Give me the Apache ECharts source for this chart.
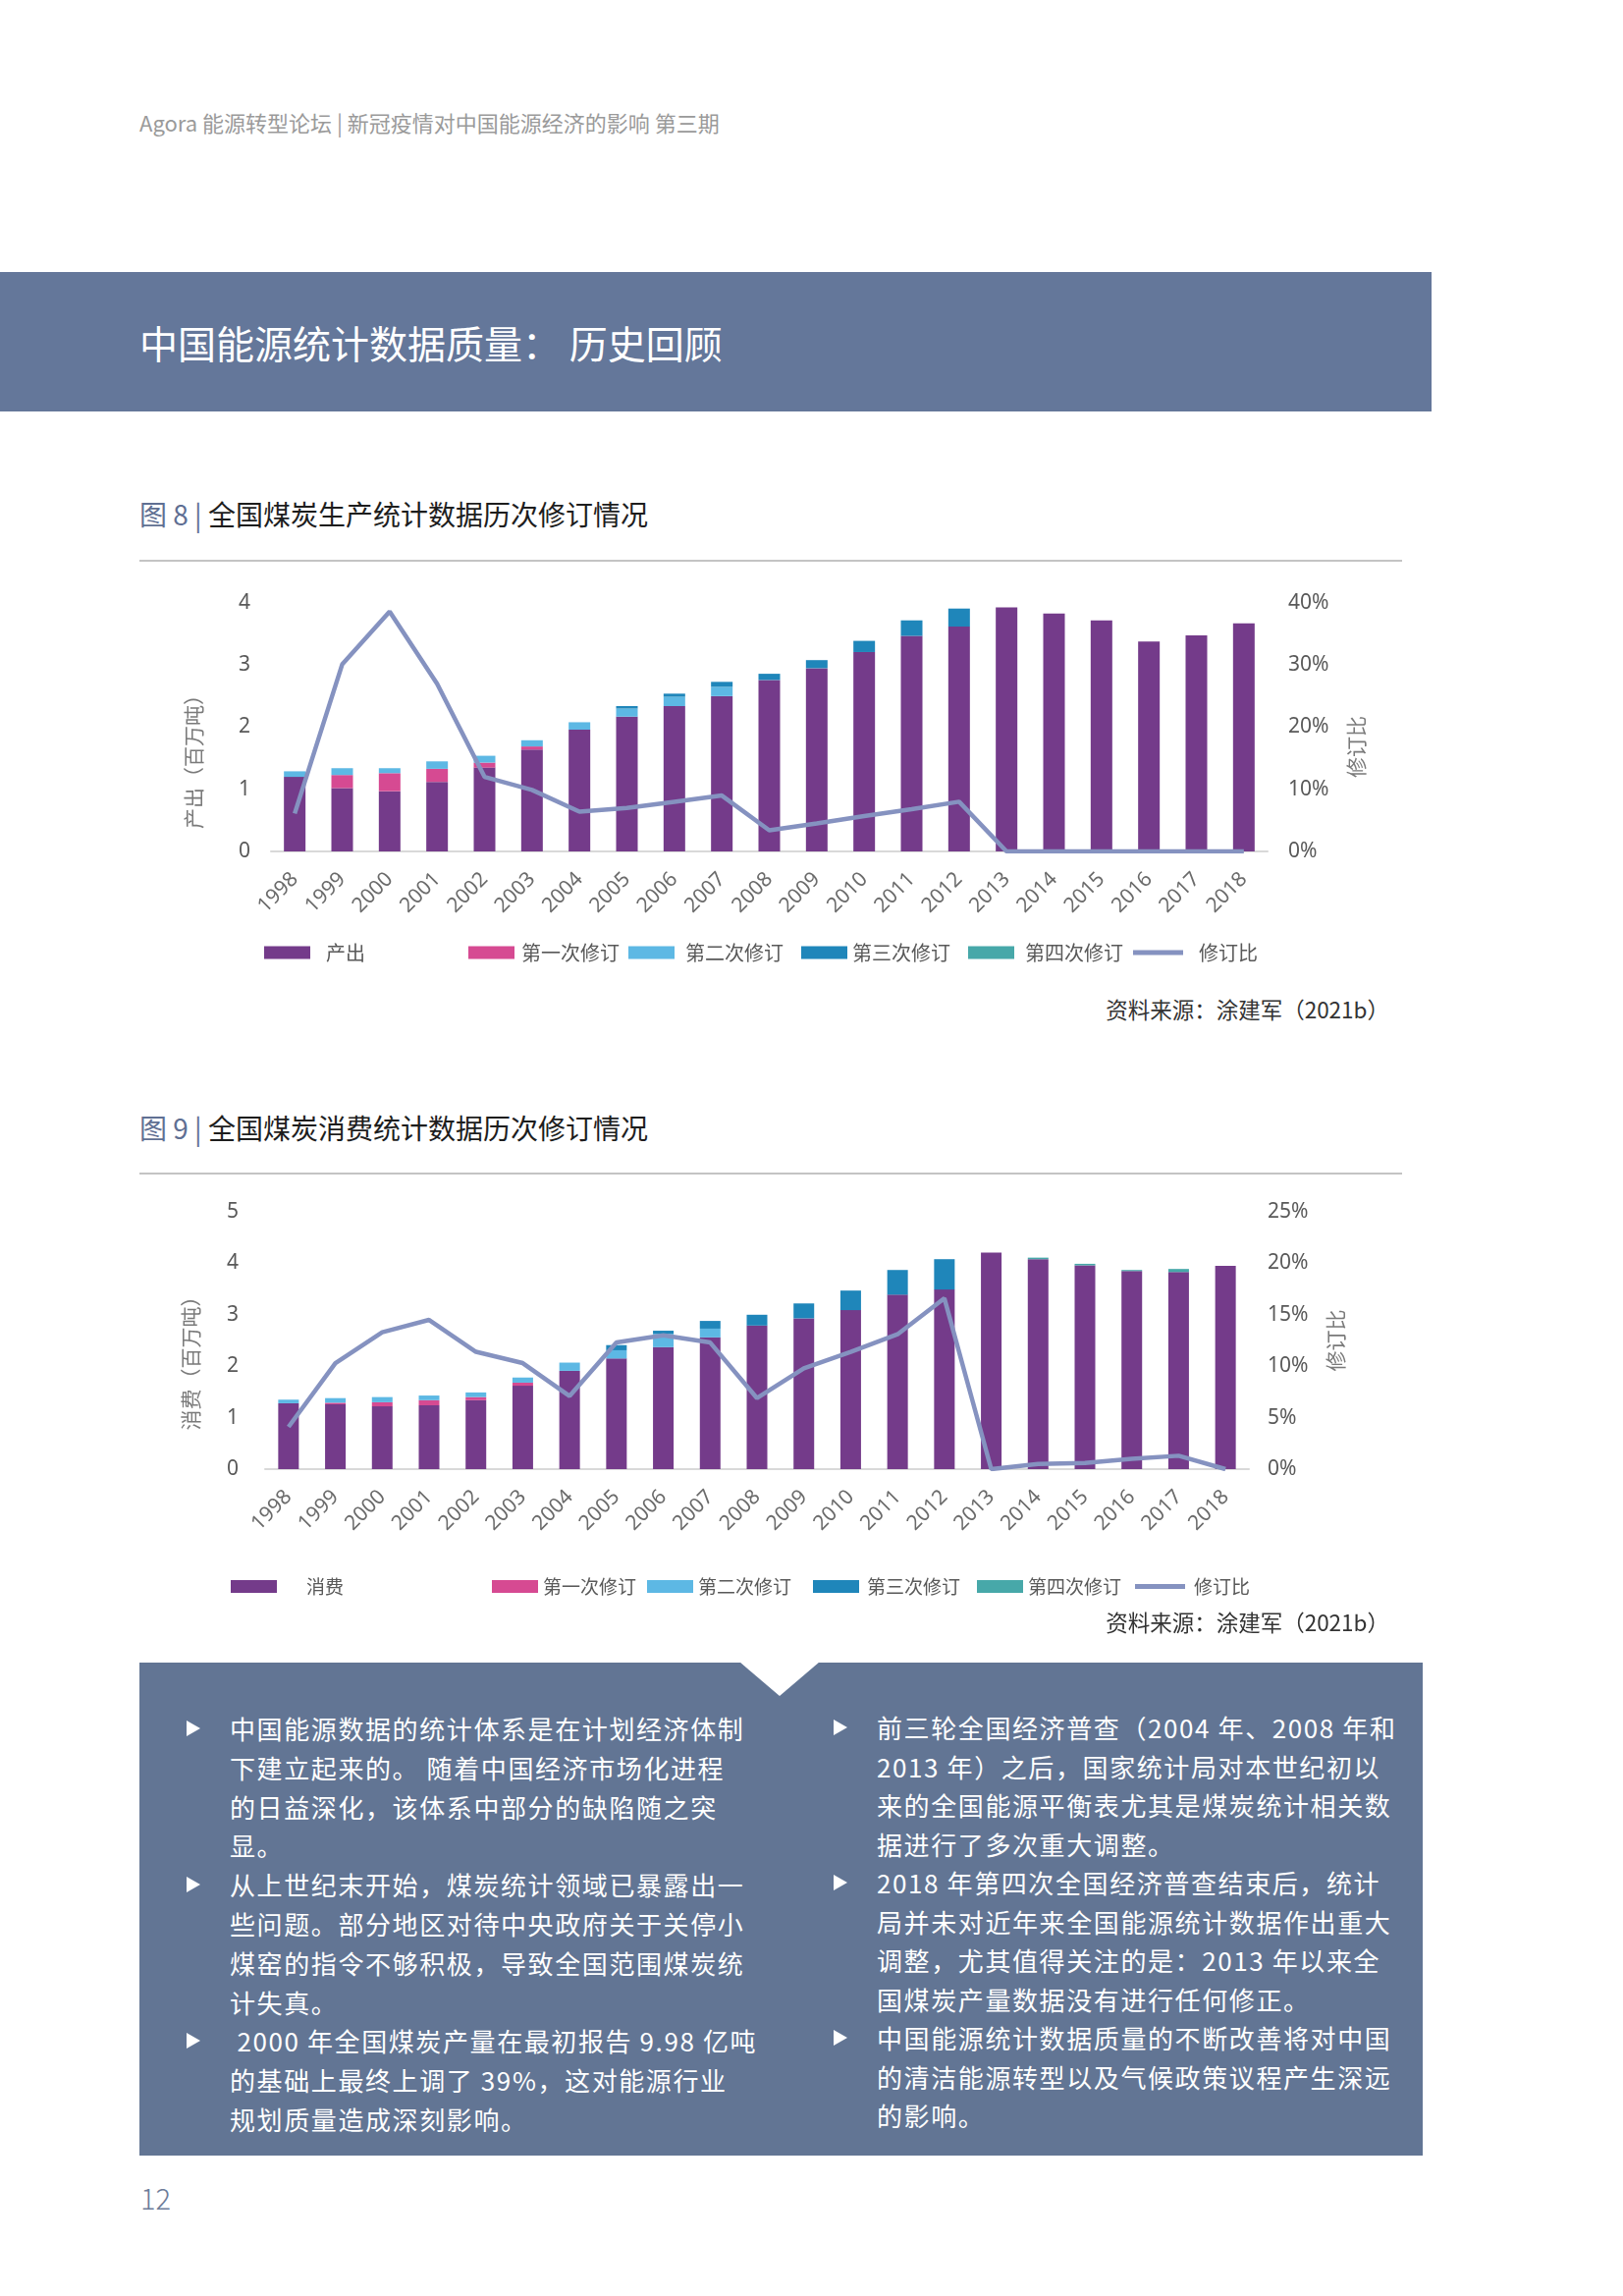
<!DOCTYPE html>
<html>
<head>
<meta charset="utf-8">
<script src="https://cdn.jsdelivr.net/npm/echarts@6/dist/echarts.min.js"></script>
<style>
  html, body { margin: 0; padding: 0; background: #fff; }
  #page { position: relative; width: 1653px; height: 2338px; overflow: hidden; background: #fff;
          font-family: 'Noto Sans CJK SC', 'Noto Sans', sans-serif; }
  .abs { position: absolute; white-space: nowrap; }
  .line { position: absolute; white-space: pre; color: #fff; font-size: 26px; letter-spacing: 1.6px; height: 40px; line-height: 40px; }
  .tri { position: absolute; width: 0; height: 0; border-top: 8px solid transparent; border-bottom: 8px solid transparent; border-left: 14px solid #fff; }
</style>
</head>
<body>
<div id="page">
  <div class="abs" style="left:142px;top:109px;font-size:22px;line-height:30px;color:#9a9a9a;">Agora 能源转型论坛 | 新冠疫情对中国能源经济的影响 第三期</div>
  <div class="abs" style="left:0;top:277px;width:1458px;height:142px;background:#64779a;"></div>
  <div class="abs" style="left:142px;top:324px;font-size:39px;line-height:48px;color:#fff;">中国能源统计数据质量： 历史回顾</div>

  <div class="abs" style="left:142px;top:504px;font-size:28px;line-height:38px;color:#1d1d1d;"><span style="color:#5f6f93">图 8 | </span>全国煤炭生产统计数据历次修订情况</div>
  <div class="abs" style="left:142px;top:570px;width:1286px;height:2px;background:#c4c4c4;"></div>
  <div id="c1" class="abs" style="left:0;top:580px;width:1653px;height:430px;"></div>
  <div class="abs" style="right:238px;top:1012px;font-size:22.5px;line-height:30px;color:#333;">资料来源：涂建军（2021b）</div>

  <div class="abs" style="left:142px;top:1129px;font-size:28px;line-height:38px;color:#1d1d1d;"><span style="color:#5f6f93">图 9 | </span>全国煤炭消费统计数据历次修订情况</div>
  <div class="abs" style="left:142px;top:1194px;width:1286px;height:2px;background:#c4c4c4;"></div>
  <div id="c2" class="abs" style="left:0;top:1200px;width:1653px;height:440px;"></div>
  <div class="abs" style="right:238px;top:1636px;font-size:22.5px;line-height:30px;color:#333;">资料来源：涂建军（2021b）</div>

  <div class="abs" style="left:142px;top:1693px;width:1307px;height:502px;background:#627594;"></div>
  <div class="abs" style="left:753px;top:1692px;width:0;height:0;border-left:41px solid transparent;border-right:41px solid transparent;border-top:35px solid #fff;"></div>
  <div id="colL"></div>
  <div id="colR"></div>

  <div class="abs" style="left:143px;top:2219px;font-size:29px;line-height:36px;color:#6d7c99;font-weight:300;">12</div>
</div>

<script>
// ---------- data ----------
const years = ['1998','1999','2000','2001','2002','2003','2004','2005','2006','2007','2008','2009','2010','2011','2012','2013','2014','2015','2016','2017','2018'];

// Figure 8: production (axis labelled 百万吨 as in the source)
const prodBase  = [1.20,1.02,0.97,1.12,1.35,1.64,1.96,2.17,2.34,2.50,2.76,2.95,3.21,3.47,3.62,3.93,3.83,3.72,3.38,3.48,3.67];
const prodRev1  = [0,0.21,0.29,0.21,0.08,0.05,0,0,0,0,0,0,0,0,0,0,0,0,0,0,0];
const prodRev2  = [0.09,0.11,0.08,0.12,0.11,0.10,0.12,0.13,0.15,0.15,0,0,0,0,0,0,0,0,0,0,0];
const prodRev3  = [0,0,0,0,0,0,0,0.04,0.05,0.08,0.10,0.13,0.18,0.25,0.29,0,0,0,0,0,0];
const prodRev4  = [0,0,0,0,0,0,0,0,0,0,0,0,0,0,0,0,0,0,0,0,0];
const prodRatio = [6.1,30.1,38.6,27.0,12.0,9.9,6.4,7.0,8.0,9.0,3.4,4.5,5.7,6.8,8.0,0,0,0,0,0,0];

// Figure 9: consumption
const consBase  = [1.28,1.26,1.22,1.24,1.34,1.62,1.91,2.15,2.37,2.56,2.79,2.93,3.09,3.39,3.49,4.21,4.08,3.96,3.85,3.83,3.95];
const consRev1  = [0,0.03,0.08,0.10,0.06,0.06,0,0,0,0,0,0,0,0,0,0,0,0,0,0,0];
const consRev2  = [0.07,0.09,0.10,0.09,0.09,0.10,0.16,0.16,0.26,0.17,0,0,0,0,0,0,0,0,0,0,0];
const consRev3  = [0,0,0,0,0,0,0,0.10,0.06,0.15,0.21,0.29,0.38,0.48,0.59,0,0,0,0,0,0];
const consRev4  = [0,0,0,0,0,0,0,0,0,0,0,0,0,0,0,0,0.03,0.03,0.02,0.06,0];
const consRatio = [4.1,10.3,13.3,14.5,11.4,10.3,7.1,12.3,13.0,12.3,6.9,9.8,11.4,13.1,16.6,0,0.5,0.6,1.0,1.3,0];

const leftTicks1 = [0,1,2,3,4];
const rightTicks1 = ['0%','10%','20%','30%','40%'];
const leftTicks2 = [0,1,2,3,4,5];
const rightTicks2 = ['0%','5%','10%','15%','20%','25%'];

const revNames = ['第一次修订','第二次修订','第三次修订','第四次修订'];
const ratioName = '修订比';

// ---------- text ----------
const leftLines = [
  '中国能源数据的统计体系是在计划经济体制',
  '下建立起来的。 随着中国经济市场化进程',
  '的日益深化，该体系中部分的缺陷随之突',
  '显。',
  '从上世纪末开始，煤炭统计领域已暴露出一',
  '些问题。部分地区对待中央政府关于关停小',
  '煤窑的指令不够积极，导致全国范围煤炭统',
  '计失真。',
  ' 2000 年全国煤炭产量在最初报告 9.98 亿吨',
  '的基础上最终上调了 39%，这对能源行业',
  '规划质量造成深刻影响。'
];
const rightLines = [
  '前三轮全国经济普查（2004 年、2008 年和',
  '2013 年）之后，国家统计局对本世纪初以',
  '来的全国能源平衡表尤其是煤炭统计相关数',
  '据进行了多次重大调整。',
  '2018 年第四次全国经济普查结束后，统计',
  '局并未对近年来全国能源统计数据作出重大',
  '调整，尤其值得关注的是：2013 年以来全',
  '国煤炭产量数据没有进行任何修正。',
  '中国能源统计数据质量的不断改善将对中国',
  '的清洁能源转型以及气候政策议程产生深远',
  '的影响。'
];
function buildCol(id, lines, textLeft, bulletLeft, firstCenter, lh) {
  const el = document.getElementById(id);
  lines.forEach((t, i) => {
    const d = document.createElement('div');
    d.className = 'line';
    d.style.left = textLeft + 'px';
    d.style.top = (firstCenter + i * lh - 20) + 'px';
    d.textContent = t;
    el.appendChild(d);
    if (i === 0 || i === 4 || i === 8) {
      const b = document.createElement('div');
      b.className = 'tri';
      b.style.left = bulletLeft + 'px';
      b.style.top = (firstCenter + i * lh - 8) + 'px';
      el.appendChild(b);
    }
  });
}
buildCol('colL', leftLines, 234, 190, 1760, 39.8);
buildCol('colR', rightLines, 893, 849, 1759, 39.5);

// ---------- charts ----------
const C = { purple:'#743b8a', pink:'#d64a92', lblue:'#5db8e4', dblue:'#1f86ba', teal:'#47a8a9', line:'#8592c0' };
const FONT = "'Noto Sans', 'Noto Sans CJK SC', sans-serif";

function legendItem(name, left, top, pad, isLine, fs) {
  return {
    data: [name], left: left, top: top, orient: 'horizontal', selectedMode: false,
    icon: 'rect', itemWidth: isLine ? 51 : 47, itemHeight: isLine ? 5 : 13,
    textStyle: { fontSize: fs, color: '#595959', fontFamily: "'Noto Sans CJK SC', sans-serif", padding: [0,0,0,pad] }
  };
}

function makeOption(cfg) {
  const barSeries = [
    { name: cfg.baseName, data: cfg.base, color: C.purple },
    { name: revNames[0], data: cfg.r1, color: C.pink },
    { name: revNames[1], data: cfg.r2, color: C.lblue },
    { name: revNames[2], data: cfg.r3, color: C.dblue },
    { name: revNames[3], data: cfg.r4, color: C.teal }
  ].map(s => ({
    name: s.name, type: 'bar', stack: 'total', data: s.data, barWidth: cfg.barWidth,
    itemStyle: { color: s.color }, emphasis: { disabled: true }
  }));
  return {
    animation: false,
    textStyle: { fontFamily: FONT },
    grid: { left: cfg.grid.left, right: cfg.grid.right, top: cfg.grid.top, bottom: cfg.grid.bottom, containLabel: false, outerBoundsMode: 'none' },
    legend: cfg.legends,
    xAxis: {
      type: 'category', data: years,
      axisLine: { show: true, lineStyle: { color: '#d9d9d9', width: 2 } },
      axisTick: { show: false },
      axisLabel: { interval: 0, rotate: 45, margin: 25, fontSize: 21, color: '#6b6b6b', fontFamily: FONT }
    },
    yAxis: [
      {
        type: 'value', min: 0, max: cfg.leftTicks[cfg.leftTicks.length - 1], interval: 1,
        name: cfg.leftName, nameLocation: 'middle', nameRotate: 90, nameGap: cfg.leftGap,
        nameTextStyle: { fontSize: 21, color: '#7a7a7a', fontFamily: "'Noto Sans CJK SC', sans-serif", padding: [0, cfg.leftShift, 0, 0] },
        axisLine: { show: false }, axisTick: { show: false }, splitLine: { show: false },
        axisLabel: { fontSize: 21, color: '#595959', margin: cfg.leftMargin,
          formatter: v => String(cfg.leftTicks[Math.round(v)] !== undefined ? cfg.leftTicks[Math.round(v)] : v) }
      },
      {
        type: 'value', min: 0, max: cfg.rightMax, interval: cfg.rightInterval,
        name: ratioName, nameLocation: 'middle', nameRotate: 90, nameGap: cfg.rightGap,
        nameTextStyle: { fontSize: 21, color: '#7a7a7a', fontFamily: "'Noto Sans CJK SC', sans-serif", padding: [0, cfg.rightShift, 0, 0] },
        axisLine: { show: false }, axisTick: { show: false }, splitLine: { show: false },
        axisLabel: { fontSize: 21, color: '#595959', margin: cfg.rightMargin,
          formatter: v => cfg.rightTicks[Math.round(v / cfg.rightInterval)] }
      }
    ],
    series: barSeries.concat([{
      name: ratioName, type: 'line', yAxisIndex: 1, data: cfg.ratio,
      symbol: 'none', showSymbol: false, smooth: false, z: 5,
      lineStyle: { color: C.line, width: 4.5 }, itemStyle: { color: C.line },
      emphasis: { disabled: true }
    }])
  };
}

const c1 = echarts.init(document.getElementById('c1'), null, { renderer: 'canvas' });
c1.setOption(makeOption({
  baseName: '产出', base: prodBase, r1: prodRev1, r2: prodRev2, r3: prodRev3, r4: prodRev4, ratio: prodRatio,
  barWidth: 22,
  grid: { left: 276, right: 362, top: 34, bottom: 143 },
  leftTicks: leftTicks1, rightTicks: rightTicks1, rightMax: 40, rightInterval: 10,
  leftName: '产出（百万吨）', leftGap: 68, leftShift: 60, leftMargin: 21,
  rightGap: 80, rightShift: 40, rightMargin: 21,
  legends: [
    legendItem('产出', 264, 375, 11, false, 20),
    legendItem('第一次修订', 472, 375, 2, false, 20),
    legendItem('第二次修订', 635, 375, 6, false, 20),
    legendItem('第三次修订', 811, 375, 0, false, 20),
    legendItem('第四次修订', 981, 375, 6, false, 20),
    legendItem('修订比', 1149, 375, 11, true, 20)
  ]
}));

const c2 = echarts.init(document.getElementById('c2'), null, { renderer: 'canvas' });
c2.setOption(makeOption({
  baseName: '消费', base: consBase, r1: consRev1, r2: consRev2, r3: consRev3, r4: consRev4, ratio: consRatio,
  barWidth: 21,
  grid: { left: 270, right: 381, top: 34, bottom: 144 },
  leftTicks: leftTicks2, rightTicks: rightTicks2, rightMax: 25, rightInterval: 5,
  leftName: '消费（百万吨）', leftGap: 65, leftShift: 36, leftMargin: 27,
  rightGap: 78, rightShift: 0, rightMargin: 19,
  legends: [
    legendItem('消费', 230, 401, 25, false, 19),
    legendItem('第一次修订', 496, 401, 0, false, 19),
    legendItem('第二次修订', 654, 401, 0, false, 19),
    legendItem('第三次修订', 823, 401, 3, false, 19),
    legendItem('第四次修订', 990, 401, 0, false, 19),
    legendItem('修订比', 1151, 401, 4, true, 19)
  ]
}));
</script>
</body>
</html>
